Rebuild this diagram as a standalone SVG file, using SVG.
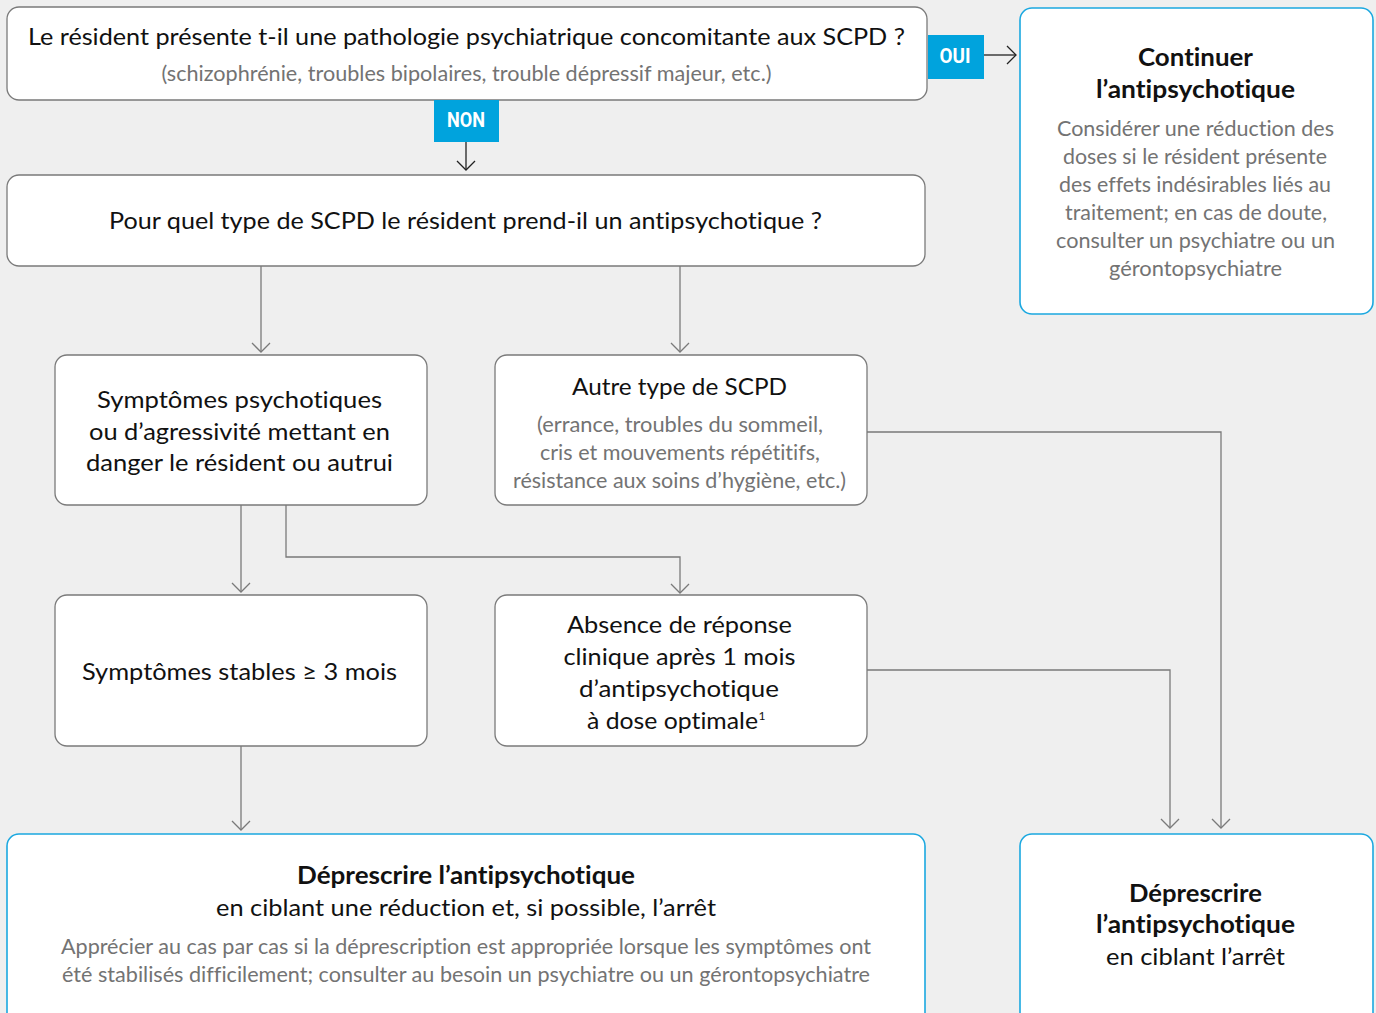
<svg xmlns="http://www.w3.org/2000/svg" width="1376" height="1013" viewBox="0 0 1376 1013">
<style>
.bg{fill:#efefef}
.box{fill:#fff;stroke:#7a7a7a;stroke-width:1.3}
.bbox{fill:#fff;stroke:#1ba8e0;stroke-width:1.6}
.lab{fill:#00a3dd}
.t{font-family:Lato,"Open Sans","Liberation Sans",sans-serif;font-size:24px;fill:#111;text-anchor:middle;font-variant-ligatures:no-common-ligatures}
.b{font-weight:700}
.g{font-family:Lato,"Open Sans","Liberation Sans",sans-serif;font-size:20.5px;fill:#737373;text-anchor:middle;font-variant-ligatures:no-common-ligatures}
.lt{font-family:Roboto,"Liberation Sans",sans-serif;font-weight:700;font-size:21px;fill:#fff;text-anchor:middle}
.c{fill:none;stroke:#7a7a7a;stroke-width:1.3}
.k{fill:none;stroke:#222;stroke-width:1.3}
</style>
<defs>
<marker id="ag" viewBox="-10 -10 12 20" refX="0" refY="0" markerWidth="12" markerHeight="20" markerUnits="userSpaceOnUse" orient="auto">
<path d="M-9,-9 L0,0 L-9,9" fill="none" stroke="#7a7a7a" stroke-width="1.3"/>
</marker>
<marker id="ak" viewBox="-10 -10 12 20" refX="0" refY="0" markerWidth="12" markerHeight="20" markerUnits="userSpaceOnUse" orient="auto">
<path d="M-9,-9 L0,0 L-9,9" fill="none" stroke="#222" stroke-width="1.3"/>
</marker>
</defs>
<rect class="bg" x="0" y="0" width="1376" height="1013"/>

<g id="connectors">
<path class="k" d="M466,142 V170" marker-end="url(#ak)"/>
<path class="k" d="M984,55 H1016" marker-end="url(#ak)"/>
<path class="c" d="M261,266 V352" marker-end="url(#ag)"/>
<path class="c" d="M680,266 V352" marker-end="url(#ag)"/>
<path class="c" d="M241,505 V592" marker-end="url(#ag)"/>
<path class="c" d="M286,505 V557 H680 V593" marker-end="url(#ag)"/>
<path class="c" d="M867,432 H1221 V828" marker-end="url(#ag)"/>
<path class="c" d="M867,670 H1170 V828" marker-end="url(#ag)"/>
<path class="c" d="M241,746 V830" marker-end="url(#ag)"/>
</g>

<g id="q1">
<rect class="box" x="7" y="7" width="920" height="93" rx="12"/>
<text class="t" x="466.5" y="45" textLength="877" lengthAdjust="spacingAndGlyphs">Le résident présente t-il une pathologie psychiatrique concomitante aux SCPD ?</text>
<text class="g" x="466.5" y="81" textLength="610" lengthAdjust="spacingAndGlyphs">(schizophrénie, troubles bipolaires, trouble dépressif majeur, etc.)</text>
</g>

<g id="oui">
<rect class="lab" x="928" y="35" width="56" height="44"/>
<text class="lt" x="955" y="63" textLength="31" lengthAdjust="spacingAndGlyphs">OUI</text>
</g>

<g id="non">
<rect class="lab" x="434" y="100" width="65" height="42"/>
<text class="lt" x="466" y="126.5" textLength="38" lengthAdjust="spacingAndGlyphs">NON</text>
</g>

<g id="continuer">
<rect class="bbox" x="1020" y="8" width="353" height="306" rx="12"/>
<text class="t b" x="1195.5" y="66" textLength="115" lengthAdjust="spacingAndGlyphs">Continuer</text>
<text class="t b" x="1195.5" y="98" textLength="199" lengthAdjust="spacingAndGlyphs">l’antipsychotique</text>
<text class="g" x="1195.5" y="136" textLength="277" lengthAdjust="spacingAndGlyphs">Considérer une réduction des</text>
<text class="g" x="1195" y="164" textLength="264" lengthAdjust="spacingAndGlyphs">doses si le résident présente</text>
<text class="g" x="1195" y="192" textLength="272" lengthAdjust="spacingAndGlyphs">des effets indésirables liés au</text>
<text class="g" x="1196" y="220" textLength="262" lengthAdjust="spacingAndGlyphs">traitement; en cas de doute,</text>
<text class="g" x="1195.5" y="248" textLength="279" lengthAdjust="spacingAndGlyphs">consulter un psychiatre ou un</text>
<text class="g" x="1195.5" y="276" textLength="173" lengthAdjust="spacingAndGlyphs">gérontopsychiatre</text>
</g>

<g id="q2">
<rect class="box" x="7" y="175" width="918" height="91" rx="12"/>
<text class="t" x="465.5" y="229" textLength="713" lengthAdjust="spacingAndGlyphs">Pour quel type de SCPD le résident prend-il un antipsychotique ?</text>
</g>

<g id="psychotiques">
<rect class="box" x="55" y="355" width="372" height="150" rx="12"/>
<text class="t" x="239.5" y="408" textLength="285" lengthAdjust="spacingAndGlyphs">Symptômes psychotiques</text>
<text class="t" x="239.5" y="440" textLength="301" lengthAdjust="spacingAndGlyphs">ou d’agressivité mettant en</text>
<text class="t" x="239.5" y="471" textLength="307" lengthAdjust="spacingAndGlyphs">danger le résident ou autrui</text>
</g>

<g id="autre">
<rect class="box" x="495" y="355" width="372" height="150" rx="12"/>
<text class="t" x="679.5" y="395" textLength="215" lengthAdjust="spacingAndGlyphs">Autre type de SCPD</text>
<text class="g" x="680" y="432" textLength="286" lengthAdjust="spacingAndGlyphs">(errance, troubles du sommeil,</text>
<text class="g" x="680" y="460" textLength="280" lengthAdjust="spacingAndGlyphs">cris et mouvements répétitifs,</text>
<text class="g" x="679.5" y="488" textLength="333" lengthAdjust="spacingAndGlyphs">résistance aux soins d’hygiène, etc.)</text>
</g>

<g id="stables">
<rect class="box" x="55" y="595" width="372" height="151" rx="12"/>
<text class="t" x="239.5" y="680" textLength="315" lengthAdjust="spacingAndGlyphs">Symptômes stables ≥ 3 mois</text>
</g>

<g id="absence">
<rect class="box" x="495" y="595" width="372" height="151" rx="12"/>
<text class="t" x="679.5" y="633" textLength="225" lengthAdjust="spacingAndGlyphs">Absence de réponse</text>
<text class="t" x="679.5" y="665" textLength="232" lengthAdjust="spacingAndGlyphs">clinique après 1 mois</text>
<text class="t" x="679" y="697" textLength="200" lengthAdjust="spacingAndGlyphs">d’antipsychotique</text>
<text class="t" x="672.5" y="729" textLength="171" lengthAdjust="spacingAndGlyphs">à dose optimale</text>
<text class="t" x="762" y="720" style="font-size:12px">1</text>
</g>

<g id="deprescrire-reduction">
<rect class="bbox" x="7" y="834" width="918" height="200" rx="12"/>
<text class="t b" x="466" y="884" textLength="338" lengthAdjust="spacingAndGlyphs">Déprescrire l’antipsychotique</text>
<text class="t" x="466" y="916" textLength="500" lengthAdjust="spacingAndGlyphs">en ciblant une réduction et, si possible, l’arrêt</text>
<text class="g" x="466" y="954" textLength="810" lengthAdjust="spacingAndGlyphs">Apprécier au cas par cas si la déprescription est appropriée lorsque les symptômes ont</text>
<text class="g" x="466" y="982" textLength="808" lengthAdjust="spacingAndGlyphs">été stabilisés difficilement; consulter au besoin un psychiatre ou un gérontopsychiatre</text>
</g>

<g id="deprescrire-arret">
<rect class="bbox" x="1020" y="834" width="353" height="200" rx="12"/>
<text class="t b" x="1195.5" y="902" textLength="133" lengthAdjust="spacingAndGlyphs">Déprescrire</text>
<text class="t b" x="1195.5" y="933" textLength="199" lengthAdjust="spacingAndGlyphs">l’antipsychotique</text>
<text class="t" x="1195.5" y="965" textLength="179" lengthAdjust="spacingAndGlyphs">en ciblant l’arrêt</text>
</g>
</svg>
